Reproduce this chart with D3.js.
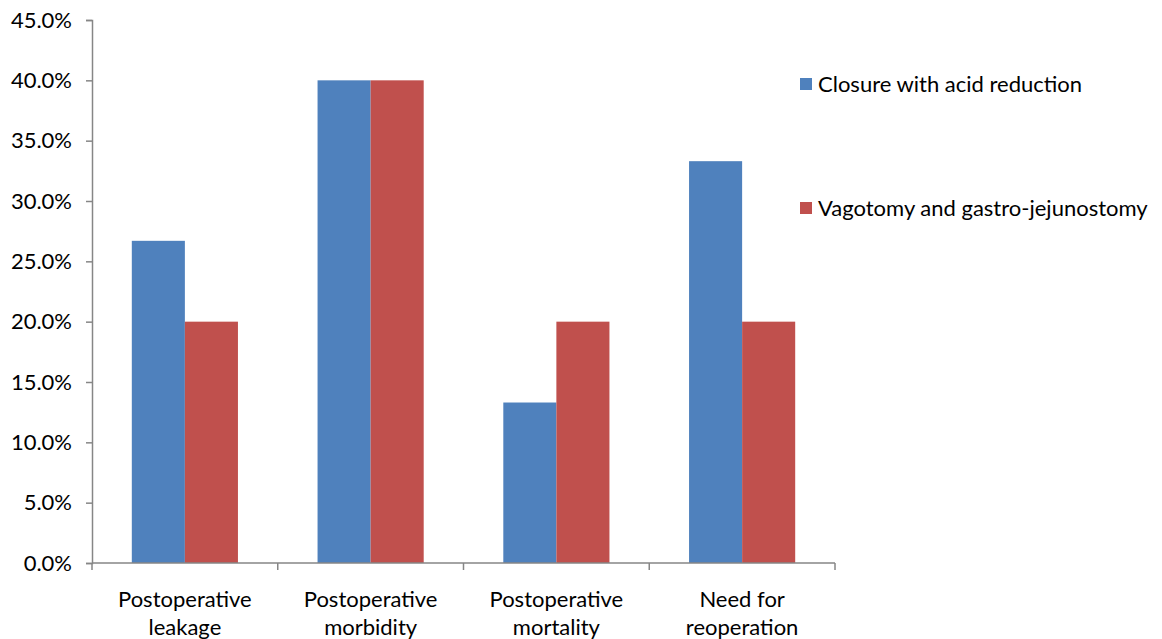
<!DOCTYPE html>
<html>
<head>
<meta charset="utf-8">
<script src="https://cdn.jsdelivr.net/npm/d3@7"></script>
<style>
  body { margin: 0; background: #fff; }
  text { font-family: Lato, "Open Sans", sans-serif; fill: #000; }
</style>
</head>
<body>
<svg id="chart" width="1162" height="639"></svg>
<script>
var categories = [["Postoperative", "leakage"], ["Postoperative", "morbidity"], ["Postoperative", "mortality"], ["Need for", "reoperation"]]
var seriesNames = ["Closure with acid reduction", "Vagotomy and gastro-jejunostomy"]
var closure = [0.267, 0.40, 0.133, 0.333]
var vagotomy = [0.20, 0.40, 0.20, 0.20]
var yTicks = [0, 0.05, 0.10, 0.15, 0.20, 0.25, 0.30, 0.35, 0.40, 0.45]
var colors = ["#4F81BD", "#C0504D"]

var svg = d3.select("#chart")
var plotLeft = 92, plotRight = 835, plotTop = 20, plotBottom = 563
var axisColor = "#868686"
var fontSize = 22

var x = d3.scaleBand().domain(d3.range(categories.length)).range([plotLeft, plotRight])
var inner = d3.scaleBand().domain([0, 1]).range([0, x.bandwidth()]).paddingInner(0).paddingOuter(0.75)
var y = d3.scaleLinear().domain([0, 0.45]).range([plotBottom, plotTop])

var series = [closure, vagotomy]
series.forEach(function(vals, s) {
  svg.append("g").selectAll("rect")
    .data(vals)
    .enter().append("rect")
      .attr("x", function(d, i) { return x(i) + inner(s) })
      .attr("y", function(d) { return y(d) })
      .attr("width", inner.bandwidth())
      .attr("height", function(d) { return plotBottom - y(d) })
      .attr("fill", colors[s])
})

// y axis
var yAxis = svg.append("g")
  .attr("transform", "translate(" + plotLeft + ",0)")
  .call(d3.axisLeft(y).tickValues(yTicks).tickFormat(d3.format(".1%")).tickSize(6).tickPadding(14))
yAxis.select(".domain").attr("stroke", axisColor).attr("stroke-width", 1.5)
yAxis.selectAll(".tick line").attr("stroke", axisColor).attr("stroke-width", 1.5)
yAxis.selectAll(".tick text").attr("font-size", fontSize).attr("font-family", "Lato, sans-serif").attr("fill", "#000")

// x axis
svg.append("line")
  .attr("x1", plotLeft).attr("x2", plotRight).attr("y1", plotBottom).attr("y2", plotBottom)
  .attr("stroke", axisColor).attr("stroke-width", 1.5)
var xTickPos = d3.range(categories.length + 1).map(function(i) { return plotLeft + i * x.step() })
svg.append("g").selectAll("line")
  .data(xTickPos)
  .enter().append("line")
    .attr("x1", function(d) { return d }).attr("x2", function(d) { return d })
    .attr("y1", plotBottom).attr("y2", plotBottom + 7)
    .attr("stroke", axisColor).attr("stroke-width", 1.5)

var labels = svg.append("g").selectAll("text")
  .data(categories)
  .enter().append("text")
    .attr("text-anchor", "middle")
    .attr("font-size", fontSize)
    .attr("transform", function(d, i) { return "translate(" + (x(i) + x.bandwidth() / 2) + ",607)" })
labels.selectAll("tspan")
  .data(function(d) { return d })
  .enter().append("tspan")
    .attr("x", 0)
    .attr("dy", function(d, i) { return i === 0 ? 0 : 28 })
    .text(function(d) { return d })

// legend
var legend = svg.append("g").selectAll("g")
  .data(seriesNames)
  .enter().append("g")
    .attr("transform", function(d, i) { return "translate(800," + (84 + i * 124) + ")" })
legend.append("rect")
  .attr("x", 0).attr("y", -6).attr("width", 12).attr("height", 12)
  .attr("fill", function(d, i) { return colors[i] })
legend.append("text")
  .attr("x", 18).attr("y", 8)
  .attr("font-size", fontSize)
  .text(function(d) { return d })
</script>
</body>
</html>
